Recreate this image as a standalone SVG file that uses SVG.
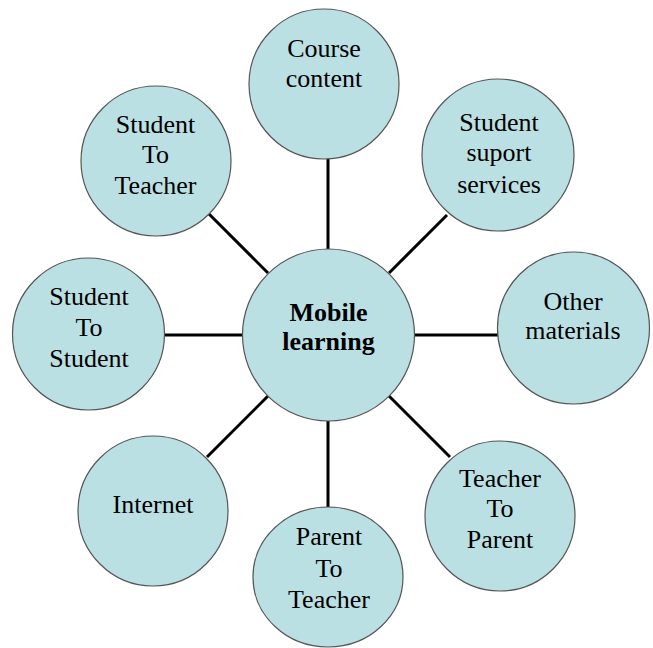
<svg xmlns="http://www.w3.org/2000/svg" width="653" height="648" viewBox="0 0 653 648">
<style>
.n{fill:#BAE0E4;stroke:#555;stroke-width:1.2}
.t{font-family:"Liberation Serif","Times New Roman",serif;font-size:26px;fill:#000;text-anchor:middle}
.b{font-weight:bold}
.c{stroke:#000;stroke-width:3;fill:none}
</style>
<rect width="653" height="648" fill="#fff"/>
<g id="connectors">
<line class="c" x1="328" y1="157" x2="328" y2="249"/>
<line class="c" x1="328" y1="421" x2="328" y2="508"/>
<line class="c" x1="164" y1="335" x2="243" y2="335"/>
<line class="c" x1="414" y1="335" x2="498" y2="335"/>
<line class="c" x1="208" y1="213" x2="268" y2="273"/>
<line class="c" x1="447" y1="215" x2="389" y2="273"/>
<line class="c" x1="207" y1="457" x2="268" y2="396"/>
<line class="c" x1="450" y1="457" x2="389" y2="396"/>
</g>
<g id="course-content">
<circle class="n" cx="324" cy="84" r="75"/>
<text class="t" x="324" y="57">Course</text>
<text class="t" x="324" y="87">content</text>
</g>
<g id="student-suport-services">
<circle class="n" cx="498" cy="155" r="76"/>
<text class="t" x="499" y="131">Student</text>
<text class="t" x="499" y="161">suport</text>
<text class="t" x="499" y="193">services</text>
</g>
<g id="other-materials">
<circle class="n" cx="573.5" cy="328" r="76"/>
<text class="t" x="573" y="310">Other</text>
<text class="t" x="573" y="339">materials</text>
</g>
<g id="teacher-to-parent">
<circle class="n" cx="500" cy="516" r="75"/>
<text class="t" x="500" y="487">Teacher</text>
<text class="t" x="500" y="517">To</text>
<text class="t" x="500" y="548">Parent</text>
</g>
<g id="parent-to-teacher">
<ellipse class="n" cx="328" cy="577" rx="75" ry="70"/>
<text class="t" x="329" y="545">Parent</text>
<text class="t" x="329" y="577">To</text>
<text class="t" x="329" y="608">Teacher</text>
</g>
<g id="internet">
<circle class="n" cx="153" cy="511" r="75"/>
<text class="t" x="153" y="513">Internet</text>
</g>
<g id="student-to-student">
<circle class="n" cx="88.5" cy="334" r="76"/>
<text class="t" x="89" y="305">Student</text>
<text class="t" x="89" y="336">To</text>
<text class="t" x="89" y="367">Student</text>
</g>
<g id="student-to-teacher">
<circle class="n" cx="156" cy="161" r="75"/>
<text class="t" x="155.5" y="133">Student</text>
<text class="t" x="155.5" y="163">To</text>
<text class="t" x="155.5" y="194">Teacher</text>
</g>
<g id="mobile-learning">
<circle class="n" cx="328.5" cy="335" r="86"/>
<text class="t b" x="328.5" y="321">Mobile</text>
<text class="t b" x="328.5" y="350">learning</text>
</g>
</svg>
